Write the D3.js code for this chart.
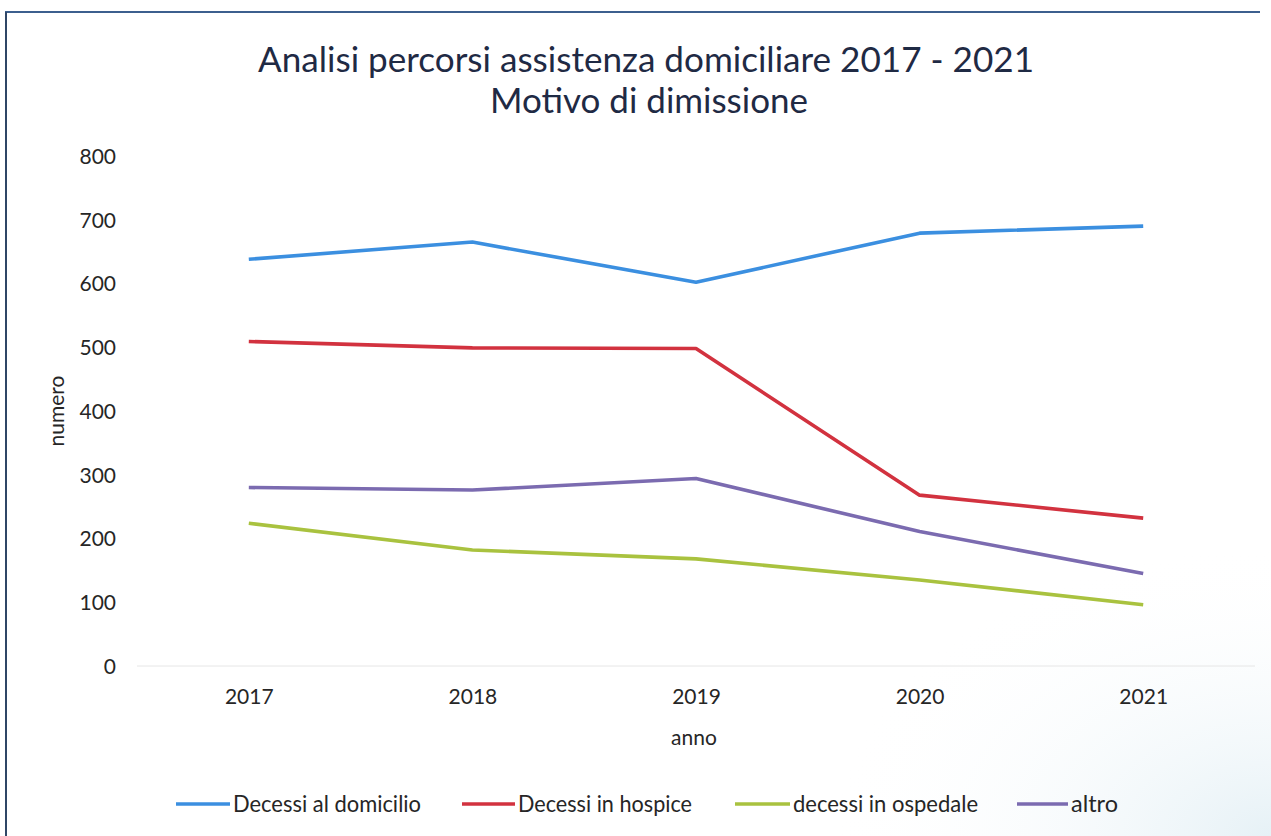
<!DOCTYPE html>
<html>
<head>
<meta charset="utf-8">
<script src="https://cdn.jsdelivr.net/npm/d3@7"></script>
<style>
  html, body { margin: 0; padding: 0; background: #fff; }
  svg { display: block; }
  text { font-family: Lato, "Open Sans", sans-serif; fill: #262626; }
</style>
</head>
<body>
<svg id="chart" width="1271" height="836"></svg>
<script>
// Years on the category axis
const years = ["2017", "2018", "2019", "2020", "2021"];

// Discharge reasons, one array per series
const domicilio = [638, 665, 602, 679, 690];
const hospice   = [509, 499, 498, 268, 232];
const ospedale  = [224, 182, 168, 135, 96];
const altro     = [280, 276, 294, 211, 145];

const seriesNames  = ["Decessi al domicilio", "Decessi in hospice", "decessi in ospedale", "altro"];
const seriesColors = ["#3b8fe0", "#d2323f", "#a9c23f", "#7b6bb0"];
const yTicks = [0, 100, 200, 300, 400, 500, 600, 700, 800];

const series = [domicilio, hospice, ospedale, altro].map((values, i) => ({
  name: seriesNames[i], color: seriesColors[i], values
}));

const svg = d3.select("#chart");
const W = 1271, H = 836;

// faint bluish tint in the lower-right corner of the page
const defs = svg.append("defs");
const grad = defs.append("radialGradient").attr("id", "tint")
  .attr("cx", "1").attr("cy", "1").attr("r", "0.35");
grad.append("stop").attr("offset", "0").attr("stop-color", "#e6f1f6");
grad.append("stop").attr("offset", "1").attr("stop-color", "#ffffff").attr("stop-opacity", 0);
svg.append("rect").attr("width", W).attr("height", H).attr("fill", "#fff");
svg.append("rect").attr("width", W).attr("height", H).attr("fill", "url(#tint)");

// frame lines along the top and left edge
svg.append("line").attr("x1", 5).attr("x2", 1260).attr("y1", 12).attr("y2", 12)
  .attr("stroke", "#3c5f8e").attr("stroke-width", 2);
svg.append("line").attr("x1", 6).attr("x2", 6).attr("y1", 12).attr("y2", H)
  .attr("stroke", "#2f4666").attr("stroke-width", 2);

// Title (condensed to the width of the original heading font)
svg.append("text").attr("x", 646).attr("y", 72).attr("text-anchor", "middle")
  .style("font-size", "35px").style("fill", "#1f2a44")
  .attr("textLength", 776).attr("lengthAdjust", "spacingAndGlyphs")
  .text("Analisi percorsi assistenza domiciliare 2017 - 2021");
svg.append("text").attr("x", 649).attr("y", 113).attr("text-anchor", "middle")
  .style("font-size", "35px").style("fill", "#1f2a44")
  .attr("textLength", 318).attr("lengthAdjust", "spacingAndGlyphs")
  .text("Motivo di dimissione");

// Scales
const plotLeft = 137, plotRight = 1255, plotTop = 156, plotBottom = 666;
const x = d3.scalePoint().domain(years).range([plotLeft, plotRight]).padding(0.5);
const y = d3.scaleLinear().domain([0, 800]).range([plotBottom, plotTop]);

// baseline
svg.append("line").attr("x1", plotLeft).attr("x2", plotRight)
  .attr("y1", y(0)).attr("y2", y(0)).attr("stroke", "#e6e6e6").attr("stroke-width", 1);

// Y axis labels
const yAxis = d3.axisLeft(y).tickValues(yTicks).tickSize(0).tickPadding(0);
const yg = svg.append("g").attr("transform", "translate(116,0)").call(yAxis);
yg.select(".domain").remove();
yg.selectAll("text").style("font-size", "21px").style("fill", "#262626")
  .style("font-family", "Lato, 'Open Sans', sans-serif").attr("dy", "0.35em");

// X axis labels
const xAxis = d3.axisBottom(x).tickSize(0).tickPadding(0);
const xg = svg.append("g").attr("transform", `translate(0,${y(0) + 23})`).call(xAxis);
xg.select(".domain").remove();
xg.selectAll("text").style("font-size", "21px").style("fill", "#262626")
  .style("font-family", "Lato, 'Open Sans', sans-serif");

// Axis titles
svg.append("text").attr("transform", "translate(64,411) rotate(-90)")
  .attr("text-anchor", "middle").style("font-size", "21px").text("numero");
svg.append("text").attr("x", 694).attr("y", 745).attr("text-anchor", "middle")
  .style("font-size", "21px").text("anno");

// Series lines
const line = d3.line().x((d, i) => x(years[i])).y(d => y(d));
svg.append("g").selectAll("path").data(series).join("path")
  .attr("d", d => line(d.values))
  .attr("fill", "none")
  .attr("stroke", d => d.color)
  .attr("stroke-width", 3.6)
  .attr("stroke-linejoin", "round");

// Legend
const legendX = [176, 462, 735, 1017];
const legendLen = [54, 53, 55, 51];
const legendTextW = [188, 174, 185, 47];
const lg = svg.append("g").selectAll("g").data(series).join("g")
  .attr("transform", (d, i) => `translate(${legendX[i]},804)`);
lg.append("line").attr("x1", 0).attr("x2", (d, i) => legendLen[i])
  .attr("y1", 0).attr("y2", 0).attr("stroke", d => d.color).attr("stroke-width", 3.6);
lg.append("text").attr("x", (d, i) => legendLen[i] + 3).attr("dy", "0.35em")
  .style("font-size", "23px")
  .attr("textLength", (d, i) => legendTextW[i]).attr("lengthAdjust", "spacingAndGlyphs")
  .text(d => d.name);
</script>
</body>
</html>
